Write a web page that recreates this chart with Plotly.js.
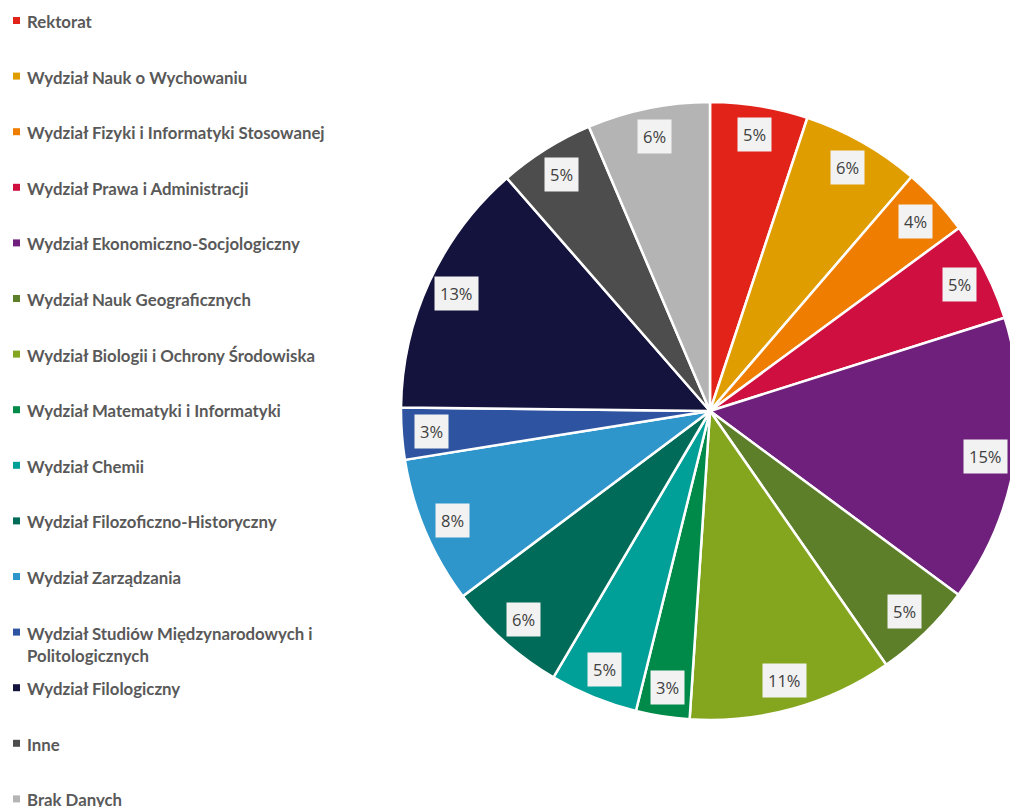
<!DOCTYPE html>
<html>
<head>
<meta charset="utf-8">
<script src="https://cdn.plot.ly/plotly-3.0.1.min.js"></script>
<style>
html,body{margin:0;padding:0;overflow:hidden;background:#fff;}
#chart{width:1030px;height:807px;}
</style>
</head>
<body>
<div id="chart"></div>
<script>
const categories = [
  "Rektorat",
  "Wydział Nauk o Wychowaniu",
  "Wydział Fizyki i Informatyki Stosowanej",
  "Wydział Prawa i Administracji",
  "Wydział Ekonomiczno-Socjologiczny",
  "Wydział Nauk Geograficznych",
  "Wydział Biologii i Ochrony Środowiska",
  "Wydział Matematyki i Informatyki",
  "Wydział Chemii",
  "Wydział Filozoficzno-Historyczny",
  "Wydział Zarządzania",
  "Wydział Studiów Międzynarodowych i<br>Politologicznych",
  "Wydział Filologiczny",
  "Inne",
  "Brak Danych"
];
const shares = [5.1, 6.2, 3.6, 5.2, 15.0, 5.2, 10.7, 2.8, 4.6, 6.3, 7.7, 2.7, 13.4, 5.0, 6.4];
const colors = ["#e2231a","#e09d00","#ef7d00","#cf0f3f","#6f207c","#5e7f2a","#84a51e","#008a4a",
                "#00a098","#006b58","#2e96cb","#2e54a1","#14133d","#4d4d4d","#b4b4b4"];

const W = 1030, H = 807;
const CX = 710, CY = 411, R = 309;

const trace = {
  type: "pie",
  labels: categories,
  values: shares,
  sort: false,
  direction: "clockwise",
  rotation: 0,
  marker: {colors: colors, line: {color: "#ffffff", width: 2.5}},
  textinfo: "none",
  textposition: "none",
  hoverinfo: "label+percent",
  showlegend: false,
  domain: {x: [(CX - R) / W, (CX + R) / W], y: [(H - CY - R) / H, (H - CY + R) / H]}
};

// percentage labels with boxes, positioned from the data
const total = shares.reduce((a, b) => a + b, 0);
const annotations = [];
const shapes = [];
let cum = 0;
shares.forEach((v, i) => {
  const mid = 2 * Math.PI * (cum + v / 2) / total;
  cum += v;
  const r = 0.905 * R;
  const px = CX + r * Math.sin(mid);
  const py = CY - r * Math.cos(mid);
  annotations.push({
    xref: "paper", yref: "paper", x: px / W, y: 1 - py / H,
    text: Math.round(v / total * 100) + "%",
    showarrow: false, xanchor: "center", yanchor: "middle",
    bgcolor: "#f2f2f2", borderpad: 5,
    font: {family: "Open Sans, sans-serif", size: 16.5, color: "#404040"}
  });
});

// legend drawn on the left
const LEG_Y0 = 20.5, LEG_DY = 55.6;
categories.forEach((c, i) => {
  const y = LEG_Y0 + LEG_DY * i;
  shapes.push({
    type: "rect", xref: "paper", yref: "paper",
    x0: 13 / W, x1: 20 / W, y0: 1 - (y + 3.5) / H, y1: 1 - (y - 3.5) / H,
    fillcolor: colors[i], line: {width: 0}
  });
  annotations.push({
    xref: "paper", yref: "paper", x: 25 / W, y: 1 - (y - 11.5) / H,
    text: "<b>" + c + "</b>", showarrow: false, xanchor: "left", yanchor: "top", align: "left",
    font: {family: "Lato, sans-serif", size: 16.8, color: "#595959"}
  });
});

const layout = {
  width: W, height: H,
  margin: {l: 0, r: 0, t: 0, b: 0},
  paper_bgcolor: "#ffffff",
  showlegend: false,
  annotations: annotations,
  shapes: shapes
};

Plotly.newPlot("chart", [trace], layout, {displayModeBar: false, staticPlot: true});
</script>
</body>
</html>
